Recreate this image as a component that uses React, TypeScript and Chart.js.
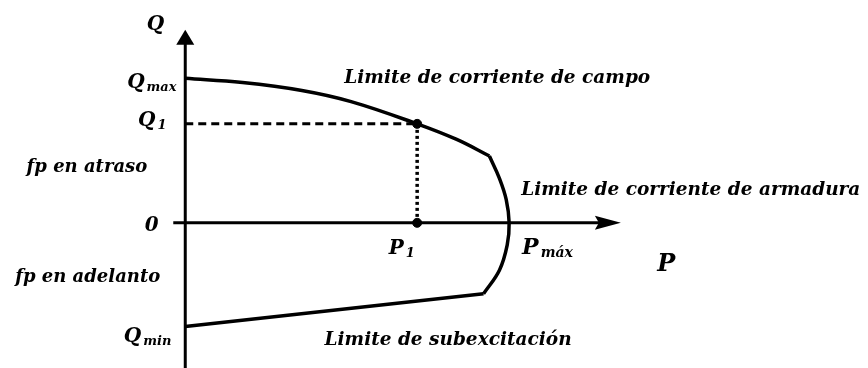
import React, { useEffect, useRef } from "react";
import { Chart, registerables } from "chart.js";
Chart.register(...registerables);

// Capability curve values (per unit, P horizontal, Q vertical)
const fieldLimitP = [0, 0.177, 0.36, 0.512, 0.716, 0.838, 0.939];
const fieldLimitQ = [0.454, 0.441, 0.416, 0.381, 0.311, 0.262, 0.21];
const armatureP = [0.939, 0.97, 0.991, 1.0, 0.994, 0.97, 0.921];
const armatureQ = [0.21, 0.14, 0.073, 0, -0.07, -0.149, -0.223];
const underexcP = [0.921, 0];
const underexcQ = [-0.223, -0.326];
const P1 = 0.716;
const Q1 = 0.311;

// Axis extents
const xAxisStart = -0.037;
const xAxisTip = 1.345;
const yAxisTip = 0.607;

// Text labels
const labelTexts = [
  "Q", "Q", "Q", "Q", "0", "fp en atraso", "fp en adelanto",
  "Limite de corriente de campo", "Limite de corriente de armadura",
  "Limite de subexcitación", "P", "P", "P",
];
const labelSubs = ["", "max", "1", "min", "", "", "", "", "", "", "1", "máx", ""];
const labelP = [-0.119, -0.027, -0.058, -0.043, -0.082, -0.49, -0.525, 0.491, 1.037, 0.43, 0.628, 1.04, 1.457];
const labelQ = [0.607, 0.424, 0.305, -0.375, -0.027, 0.159, -0.186, 0.439, 0.088, -0.384, -0.098, -0.098, -0.152];
const labelSize = [20, 20, 20, 20, 20, 18, 18, 18.5, 18.5, 18.5, 20, 22, 24];
const labelAlign = ["left", "right", "right", "right", "right", "left", "left", "left", "left", "left", "left", "left", "left"];

const toPts = (xs: number[], ys: number[]) => xs.map((x, i) => ({ x, y: ys[i] }));

const FONT = '"DejaVu Serif", serif';

const drawPlugin = {
  id: "diagram",
  beforeDatasetsDraw(chart: any) {
    const { ctx, scales } = chart;
    const xs = scales.x, ys = scales.y;
    const ox = xs.getPixelForValue(0), oy = ys.getPixelForValue(0);
    ctx.save();
    ctx.strokeStyle = "#000";
    ctx.fillStyle = "#000";
    ctx.lineWidth = 3;
    // y axis
    const yTop = ys.getPixelForValue(yAxisTip);
    ctx.beginPath();
    ctx.moveTo(ox, chart.height);
    ctx.lineTo(ox, yTop + 10);
    ctx.stroke();
    ctx.beginPath();
    ctx.moveTo(ox, yTop);
    ctx.lineTo(ox - 9, yTop + 15);
    ctx.lineTo(ox + 9, yTop + 15);
    ctx.closePath();
    ctx.fill();
    // x axis
    const xEnd = xs.getPixelForValue(xAxisTip);
    ctx.beginPath();
    ctx.moveTo(xs.getPixelForValue(xAxisStart), oy);
    ctx.lineTo(xEnd - 15, oy);
    ctx.stroke();
    ctx.beginPath();
    ctx.moveTo(xEnd, oy);
    ctx.lineTo(xEnd - 26, oy - 7);
    ctx.lineTo(xEnd - 22, oy);
    ctx.lineTo(xEnd - 26, oy + 7);
    ctx.closePath();
    ctx.fill();
    ctx.restore();
  },
  afterDatasetsDraw(chart: any) {
    const { ctx, scales } = chart;
    ctx.save();
    ctx.fillStyle = "#000";
    ctx.textBaseline = "alphabetic";
    labelTexts.forEach((t, i) => {
      const px = scales.x.getPixelForValue(labelP[i]);
      const py = scales.y.getPixelForValue(labelQ[i]);
      const size = labelSize[i];
      const sub = labelSubs[i];
      ctx.font = `italic bold ${size}px ${FONT}`;
      const mw = ctx.measureText(t).width;
      const subSize = Math.round(size * 0.65);
      let sw = 0;
      if (sub) {
        ctx.font = `italic bold ${subSize}px ${FONT}`;
        sw = ctx.measureText(sub).width + 2;
      }
      const total = mw + sw;
      const left = labelAlign[i] === "right" ? px - total : px;
      ctx.textAlign = "left";
      ctx.font = `italic bold ${size}px ${FONT}`;
      ctx.fillText(t, left, py);
      if (sub) {
        ctx.font = `italic bold ${subSize}px ${FONT}`;
        ctx.fillText(sub, left + mw + 2, py + 3);
      }
    });
    ctx.restore();
  },
};

export default function App() {
  const ref = useRef<HTMLCanvasElement | null>(null);
  useEffect(() => {
    document.body.style.margin = "0";
    const canvas = ref.current;
    if (!canvas) return;
    const black = "#000";
    const chart = new Chart(canvas, {
      type: "scatter",
      data: {
        datasets: [
          {
            data: toPts(fieldLimitP, fieldLimitQ),
            showLine: true,
            borderColor: black,
            borderWidth: 3.5,
            pointRadius: 0,
            tension: 0.4,
          },
          {
            data: toPts(armatureP, armatureQ),
            showLine: true,
            borderColor: black,
            borderWidth: 3.5,
            pointRadius: 0,
            tension: 0.4,
          },
          {
            data: toPts(underexcP, underexcQ),
            showLine: true,
            borderColor: black,
            borderWidth: 3.5,
            pointRadius: 0,
          },
          {
            data: [{ x: 0, y: Q1 }, { x: P1, y: Q1 }],
            showLine: true,
            borderColor: black,
            borderWidth: 3,
            borderDash: [8, 5],
            pointRadius: 0,
          },
          {
            data: [{ x: P1, y: Q1 }, { x: P1, y: 0 }],
            showLine: true,
            borderColor: black,
            borderWidth: 3.5,
            borderDash: [3, 3],
            pointRadius: 0,
          },
          {
            data: [{ x: P1, y: Q1 }, { x: P1, y: 0 }],
            showLine: false,
            backgroundColor: black,
            borderColor: black,
            pointRadius: 4.5,
          },
        ],
      },
      options: {
        animation: false,
        responsive: true,
        maintainAspectRatio: false,
        layout: { padding: 0 },
        plugins: { legend: { display: false }, tooltip: { enabled: false } },
        scales: {
          x: { type: "linear", display: false, min: -0.555, max: 2.091 },
          y: { type: "linear", display: false, min: -0.439, max: 0.683 },
        },
      },
      plugins: [drawPlugin],
    } as any);
    return () => chart.destroy();
  }, []);
  return (
    <div style={{ position: "fixed", left: 0, top: 0, width: 868, height: 368, background: "#fff" }}>
      <canvas ref={ref} />
    </div>
  );
}
